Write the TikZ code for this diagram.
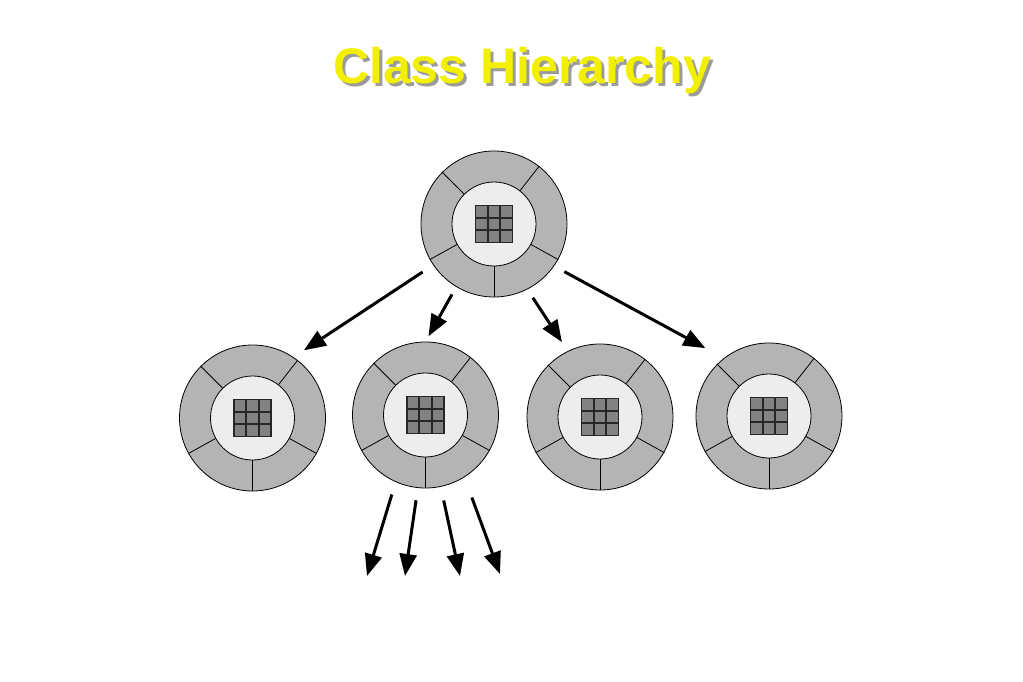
\documentclass[tikz,border=0pt]{standalone}
\usepackage{fontspec}
\setmainfont{Liberation Sans}
\usetikzlibrary{arrows.meta, calc}
\definecolor{ringgray}{RGB}{180, 180, 180}
\definecolor{coregray}{RGB}{237, 237, 237}
\definecolor{cellgray}{RGB}{130, 130, 130}
\definecolor{titleyellow}{RGB}{242, 240, 0}
\definecolor{shadowgray}{RGB}{155, 155, 155}

\tikzset{
  ring/.style={circle, draw, fill=ringgray, minimum size=146pt, inner sep=0pt, line width=0.8pt},
  core/.style={circle, draw, fill=coregray, minimum size=84pt, inner sep=0pt, line width=0.8pt},
  cell/.style={rectangle, draw=black!85, fill=cellgray, minimum size=12.3pt, inner sep=0pt, line width=1.8pt},
  inherit/.style={-{Triangle[length=22pt, width=17pt]}, line width=3pt},
}

% text with a grey drop shadow
\newcommand{\shadowtext}[1]{\makebox[0pt][l]{\hspace{3pt}\raisebox{-3pt}{\textcolor{shadowgray}{#1}}}#1}

% one class: outer ring, five spokes, inner disc, 3x3 grid
\newcommand{\classobj}[2]{%
  \node[ring] (#1) at (#2) {};
  \node[core] (#1-core) at (#2) {};
  \foreach \a in {52,135,209,270,331}
    \draw[line width=0.8pt] (#1-core.\a) -- (#1.\a);
  \foreach \i in {0,1,2}
    \foreach \j in {0,1,2}
      \node[cell] (#1-cell\i\j) at ($(#1)+(\i*12.3-12.3,\j*12.3-12.3)$) {};
}

\begin{document}
\begin{tikzpicture}[x=1pt, y=-1pt]
  \useasboundingbox (0,0) rectangle (1023,682);

  % title
  \node[font=\bfseries\fontsize{50}{50}\selectfont, text=titleyellow, anchor=base] (title) at (522,84) {\shadowtext{Class Hierarchy}};

  % classes
  \classobj{root}{494,224}
  \classobj{subA}{252.5,418}
  \classobj{subB}{425.5,415}
  \classobj{subC}{600,417}
  \classobj{subD}{769,416}

  % inheritance
  \draw[inherit, shorten <=12.7pt, shorten >=12.4pt] (root.214) -- (subA.56);
  \draw[inherit, shorten <=8.6pt, shorten >=6pt] (root.239) -- (subB.90);
  \draw[inherit, shorten <=10pt, shorten >=10.6pt] (root.297) -- (subC.116);
  \draw[inherit, shorten <=11.6pt, shorten >=21pt] (root.325) -- (subD.128);

  % further subclasses
  \coordinate (leafA) at (367,576);
  \coordinate (leafB) at (405,576);
  \coordinate (leafC) at (460,576);
  \coordinate (leafD) at (500,574);
  \draw[inherit, shorten <=13pt] (subB.246) -- (leafA);
  \draw[inherit, shorten <=12.4pt] (subB.264) -- (leafB);
  \draw[inherit, shorten <=14pt] (subB.282) -- (leafC);
  \draw[inherit, shorten <=21.6pt] (subB.302) -- (leafD);
\end{tikzpicture}
\end{document}
